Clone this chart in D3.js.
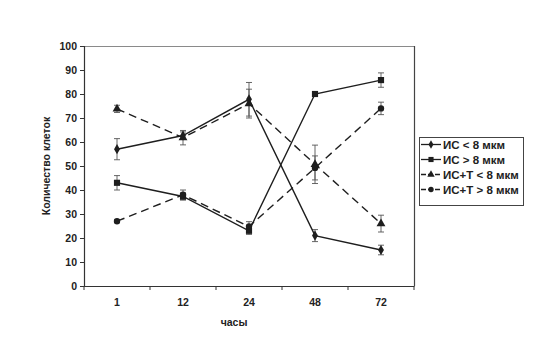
<!DOCTYPE html>
<html><head><meta charset="utf-8">
<script src="https://cdn.jsdelivr.net/npm/d3@7"></script>
<style>body{margin:0;background:#fff}svg{display:block}text{font-family:Arial,"Liberation Sans",sans-serif;font-weight:bold;fill:#222}</style>
</head><body>
<svg id="c" width="558" height="338"></svg>
<script>
const categories = ["1","12","24","48","72"];
const yTicks = [0,10,20,30,40,50,60,70,80,90,100];
const seriesNames = ["ИС < 8 мкм","ИС > 8 мкм","ИС+Т < 8 мкм","ИС+Т > 8 мкм"];
const is_lt8 = [57,62.7,77.8,21,15];
const is_lt8_err = [4.4,1.5,7,2.5,2];
const is_gt8 = [43,37.3,23,80,85.8];
const is_gt8_err = [3,1.5,1.5,1,3];
const ist_lt8 = [73.8,61.8,76,50.7,26];
const ist_lt8_err = [1.5,3,6,8,3.5];
const ist_gt8 = [27,38,24.8,49.2,74];
const ist_gt8_err = [0.6,2,2,5,2.6];

const series = [
  {name:seriesNames[0], vals:is_lt8, err:is_lt8_err, marker:"diamond", dash:null},
  {name:seriesNames[1], vals:is_gt8, err:is_gt8_err, marker:"square", dash:null},
  {name:seriesNames[2], vals:ist_lt8, err:ist_lt8_err, marker:"triangle", dash:"8,5"},
  {name:seriesNames[3], vals:ist_gt8, err:ist_gt8_err, marker:"circle", dash:"8,5"}
];

const svg = d3.select("#c");
const L=84, R=414, T=46, B=286;
const x = d3.scaleBand().domain(categories).range([L,R]);
const y = d3.scaleLinear().domain([0,100]).range([B,T]);
const lineCol = "#1e1e1e";

// plot frame
svg.append("line").attr("x1",L).attr("x2",R).attr("y1",T+0.5).attr("y2",T+0.5).attr("stroke","#8a8a8a").attr("stroke-width",1);
svg.append("line").attr("x1",R+0.5).attr("x2",R+0.5).attr("y1",T).attr("y2",B).attr("stroke","#444").attr("stroke-width",1.2);

// axes
const yAx = svg.append("g").attr("transform",`translate(${L},0)`)
  .call(d3.axisLeft(y).tickValues(yTicks).tickSize(4).tickPadding(3).tickFormat(d3.format("d")));
const xAx = svg.append("g").attr("transform",`translate(0,${B})`)
  .call(d3.axisBottom(x).tickSize(0).tickPadding(13));
const bounds = categories.map(c=>x(c)).concat([R]);
svg.append("g").selectAll("line").data(bounds).join("line")
  .attr("x1",d=>d).attr("x2",d=>d).attr("y1",B).attr("y2",B+4).attr("stroke","#333");
[yAx,xAx].forEach(g=>{
  g.select(".domain").attr("stroke","#333").attr("stroke-width",1.2);
  g.selectAll(".tick line").attr("stroke","#333");
  g.selectAll("text").style("font-size","10.5px").style("font-family","Arial, 'Liberation Sans', sans-serif").style("font-weight","bold").attr("fill","#222");
});

svg.append("text").attr("transform",`translate(46,${(T+B)/2}) rotate(-90)`).attr("text-anchor","middle")
  .attr("dy","0.35em").style("font-size","10.5px").text("Количество клеток");
svg.append("text").attr("x",234).attr("y",326).attr("text-anchor","middle").style("font-size","10.5px").text("часы");

const cx = c=>x(c)+x.bandwidth()/2;
const symType = {diamond:d3.symbolDiamond, square:d3.symbolSquare, triangle:d3.symbolTriangle, circle:d3.symbolCircle};
const symSize = {diamond:30, square:38, triangle:34, circle:32};

// error bars
series.forEach(s=>{
  const g = svg.append("g").attr("stroke","#555").attr("stroke-width",0.9);
  categories.forEach((c,i)=>{
    const X=cx(c), y1=y(s.vals[i]+s.err[i]), y0=y(s.vals[i]-s.err[i]);
    g.append("line").attr("x1",X).attr("x2",X).attr("y1",y1).attr("y2",y0);
    g.append("line").attr("x1",X-3).attr("x2",X+3).attr("y1",y1).attr("y2",y1);
    g.append("line").attr("x1",X-3).attr("x2",X+3).attr("y1",y0).attr("y2",y0);
  });
});

// lines
const lineGen = d3.line().x((d,i)=>cx(categories[i])).y(d=>y(d));
series.forEach(s=>{
  svg.append("path").attr("d",lineGen(s.vals)).attr("fill","none").attr("stroke",lineCol)
    .attr("stroke-width",1.4).attr("stroke-dasharray",s.dash);
});
// markers
series.forEach(s=>{
  svg.append("g").selectAll("path").data(s.vals).join("path")
    .attr("d",d3.symbol().type(symType[s.marker]).size(symSize[s.marker]))
    .attr("transform",(d,i)=>`translate(${cx(categories[i])},${y(d)})`)
    .attr("fill",lineCol);
});

// legend
const lg = svg.append("g");
lg.append("rect").attr("x",419.5).attr("y",137.5).attr("width",104).attr("height",68).attr("fill","#fff").attr("stroke","#444").attr("stroke-width",1);
series.forEach((s,i)=>{
  const ly = 144.5 + i*15;
  lg.append("line").attr("x1",421).attr("x2",441).attr("y1",ly).attr("y2",ly).attr("stroke",lineCol).attr("stroke-width",1.3)
    .attr("stroke-dasharray",s.dash?"5,2":null);
  lg.append("path").attr("d",d3.symbol().type(symType[s.marker]).size(symSize[s.marker]*0.7)())
    .attr("transform",`translate(431,${ly})`).attr("fill",lineCol);
  lg.append("text").attr("x",443).attr("y",ly).attr("dy","0.35em").style("font-size","11.5px").style("font-weight","bold").text(s.name);
});
</script>
</body></html>
